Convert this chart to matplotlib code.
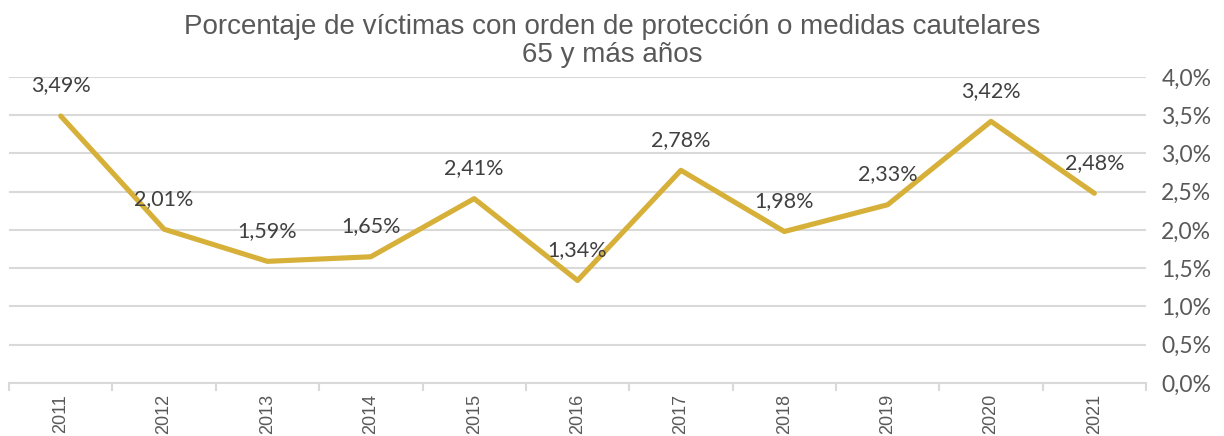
import numpy as np
import matplotlib
matplotlib.use("Agg")
from matplotlib import pyplot as plt
from matplotlib.ticker import FixedLocator

years = ["2011", "2012", "2013", "2014", "2015", "2016", "2017", "2018", "2019", "2020", "2021"]
values = [3.49, 2.01, 1.59, 1.65, 2.41, 1.34, 2.78, 1.98, 2.33, 3.42, 2.48]
y_ticks = [0.0, 0.5, 1.0, 1.5, 2.0, 2.5, 3.0, 3.5, 4.0]

gray = "#595959"
grid_col = "#D9D9D9"
line_col = "#D6B038"

fig = plt.figure(figsize=(12.24, 4.36), dpi=100)
ax = fig.add_axes([0.0074, 0.1216, 0.9289, 0.7018])

x = np.arange(len(years))
ax.plot(x, values, color=line_col, linewidth=3.7, solid_capstyle="round", solid_joinstyle="round", zorder=3)

# etiquetas de datos
for xi, v in zip(x, values):
    ax.annotate(f"{v:.2f}%".replace(".", ","), (xi, v), xytext=(0, 22), textcoords="offset points",
                ha="center", va="center", fontsize=15.5, color="#404040", family="Lato", zorder=4)

ax.set_xlim(-0.5, len(years) - 0.5)
ax.set_ylim(0, 4.0)
ax.set_yticks(y_ticks)
ax.set_yticklabels([f"{t:.1f}%".replace(".", ",") for t in y_ticks], fontsize=16.5, color=gray, family="Lato")
ax.yaxis.tick_right()
ax.tick_params(axis="y", length=0, pad=11)
ax.grid(axis="y", color=grid_col, linewidth=1.5, zorder=0)

ax.set_xticks(x)
ax.set_xticklabels(years, rotation=90, fontsize=13, color=gray, family="Liberation Sans")
ax.xaxis.set_minor_locator(FixedLocator(np.arange(-0.5, len(years), 1.0)))
ax.tick_params(axis="x", which="major", length=0, pad=8)
ax.tick_params(axis="x", which="minor", length=6, color=grid_col, width=1.5)

for s in ["top", "left", "right"]:
    ax.spines[s].set_visible(False)
ax.spines["bottom"].set_color(grid_col)
ax.spines["bottom"].set_linewidth(1.5)

fig.text(0.5, 0.906, "Porcentaje de víctimas con orden de protección o medidas cautelares\n65 y más años",
         ha="center", va="center", fontsize=20, color=gray, family="Liberation Sans", linespacing=1.1)

plt.savefig("out.png")
